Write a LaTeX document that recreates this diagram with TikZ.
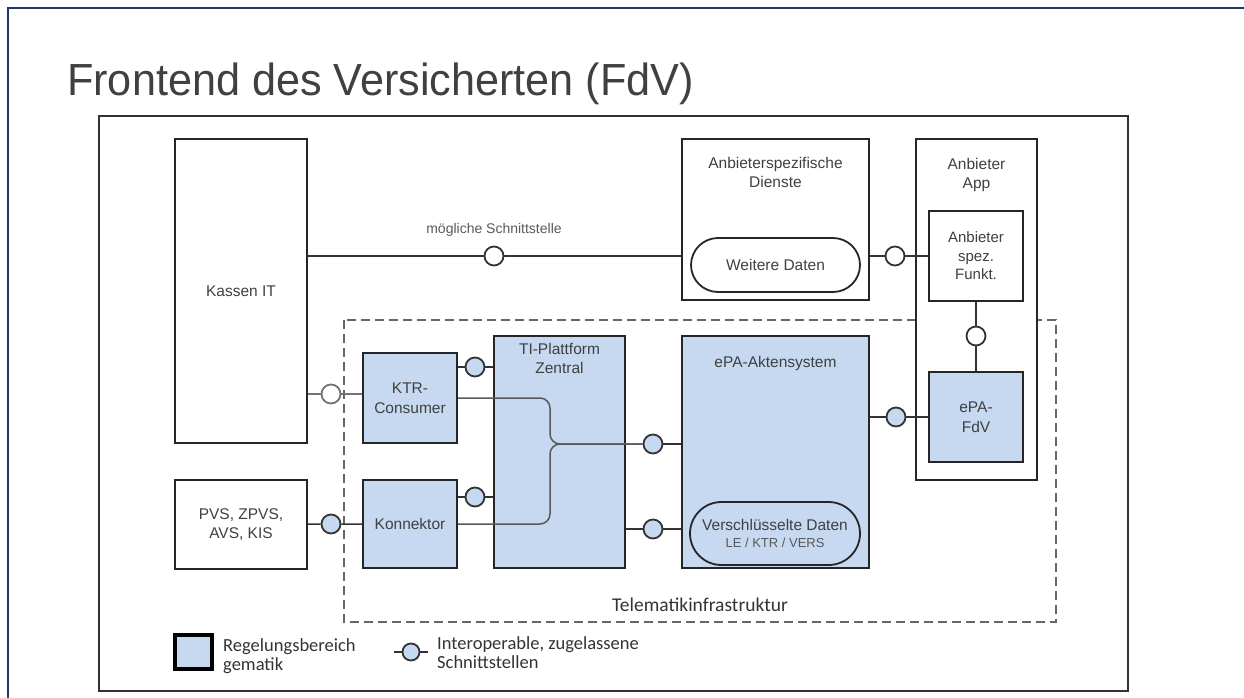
\documentclass[tikz,border=0pt]{standalone}
\usepackage{fontspec}
\usepackage{graphicx}
\setmainfont{Liberation Sans}
\newfontfamily\legendfont{Carlito}
\usetikzlibrary{shapes.misc}
\definecolor{gematikblau}{HTML}{C6D9F1}
\definecolor{rahmenblau}{HTML}{1F3864}
\definecolor{schrift}{HTML}{404040}
\definecolor{linie}{HTML}{333333}
\tikzset{
  kasten/.style={draw=black!85, line width=2.4pt, fill=white, inner sep=0pt, align=center, text=schrift, font=\fontsize{15.5}{19.5}\selectfont},
  gkasten/.style={kasten, fill=gematikblau},
  daten/.style={rounded rectangle, draw=black!85, line width=1.8pt, fill=white, inner sep=0pt, align=center, text=schrift, font=\fontsize{15.5}{19.5}\selectfont},
  etikett/.style={inner sep=0pt, align=center, text=schrift, font=\fontsize{15.5}{19.5}\selectfont},
  iface/.style={circle, draw=linie, line width=1.8pt, fill=gematikblau, minimum size=19pt, inner sep=0pt},
  ifacew/.style={iface, fill=white},
  verbindung/.style={line width=1.5pt, draw=linie},
  klammer/.style={line width=1.5pt, draw=black!65, rounded corners=10pt},
  tizone/.style={draw=black!60, line width=2.2pt, dash pattern=on 9pt off 5pt},
  legende/.style={inner sep=0pt, align=left, text=black!80, font=\legendfont\fontsize{18.5}{19}\selectfont}
}
\begin{document}
\begin{tikzpicture}[x=1pt,y=-1pt]
  \useasboundingbox (0,0) rectangle (1244,698);
  % Cadre et titre
  \draw [rahmenblau, line width=2pt] (1244,8) -- (8,8) -- (8,698);
  \node [anchor=base west, inner sep=0pt, text=schrift, font=\fontsize{45}{45}\selectfont] (titel) at (67,96) {\scalebox{0.96}[1]{Frontend des Versicherten (FdV)}};
  \draw [black!80, line width=2pt] (99,116) rectangle (1128,691);

  % Telematikinfrastruktur
  \draw [tizone] (344,320) rectangle (1056,622);
  \node [etikett, text=black!80, font=\legendfont\fontsize{19.5}{22}\selectfont] (tilabel) at (700,605) {Telematikinfrastruktur};

  % Kästen
  \node [kasten, minimum width=132pt, minimum height=304pt] (kassen) at (241,291) {Kassen IT};
  \node [kasten, minimum width=132pt, minimum height=89pt] (pvs) at (241,524.5) {PVS, ZPVS,\\AVS, KIS};
  \node [gkasten, minimum width=94pt, minimum height=90pt] (ktr) at (410,398) {KTR-\\Consumer};
  \node [gkasten, minimum width=94pt, minimum height=88pt] (konn) at (410,524) {Konnektor};
  \node [gkasten, minimum width=131pt, minimum height=232pt] (tip) at (559.5,452) {};
  \node [etikett, anchor=north] (tiptext) at (559.5,343) {TI-Plattform\\Zentral};
  \node [gkasten, minimum width=187pt, minimum height=232pt] (epa) at (775.5,452) {};
  \node [etikett, anchor=north] (epatext) at (775.5,356) {ePA-Aktensystem};
  \node [daten, fill=gematikblau, minimum width=170pt, minimum height=63pt] (verschl) at (775,533.5) {Verschlüsselte Daten\\[-2pt]{\fontsize{13}{15}\selectfont\color{black!65}LE / KTR / VERS}};
  \node [kasten, minimum width=187pt, minimum height=161pt] (dienste) at (775.5,219.5) {};
  \node [etikett, anchor=north] (dienstetext) at (775.5,157) {Anbieterspezifische\\Dienste};
  \node [daten, minimum width=169pt, minimum height=54pt] (weitere) at (775.5,265) {Weitere Daten};
  \node [kasten, minimum width=121pt, minimum height=341pt] (app) at (976.5,309.5) {};
  \node [etikett, anchor=north] (apptext) at (976.5,158) {Anbieter\\App};
  \node [kasten, minimum width=94pt, minimum height=90pt, font=\fontsize{15}{18.5}\selectfont] (funkt) at (976,256) {Anbieter\\spez.\\Funkt.};
  \node [gkasten, minimum width=94pt, minimum height=90pt] (fdv) at (976,417) {ePA-\\FdV};

  % Schnittstellen
  \foreach \n/\x/\y in {c1/494/256, c2/895/256, c3/976/336}
    \node [ifacew] (\n) at (\x,\y) {};
  \foreach \n/\x/\y in {c4/896/417, c5/475/367, c6/475/497, c8/331/524, c9/653/444, c10/653/529}
    \node [iface] (\n) at (\x,\y) {};
  \node [ifacew, draw=black!55] (c7) at (331,394) {};
  \node [etikett, text=black!65, font=\fontsize{14}{16}\selectfont] (moeglich) at (494,230) {mögliche Schnittstelle};

  \draw [verbindung] (kassen.east |- c1) -- (c1) -- (dienste.west |- c1);
  \draw [verbindung] (dienste.east |- c2) -- (c2) -- (funkt.west |- c2);
  \draw [verbindung] (funkt) -- (c3) -- (fdv);
  \draw [verbindung] (epa.east |- c4) -- (c4) -- (fdv);
  \draw [verbindung] (ktr.east |- c5) -- (c5) -- (tip.west |- c5);
  \draw [verbindung] (konn.east |- c6) -- (c6) -- (tip.west |- c6);
  \draw [verbindung, draw=black!55] (kassen.east |- c7) -- (c7) -- (ktr.west |- c7);
  \draw [verbindung] (pvs) -- (c8) -- (konn);
  \draw [verbindung] (tip.east |- c10) -- (c10) -- (epa.west |- c10);

  % Klammer
  \coordinate (knick) at (550,444);
  \draw [klammer] (ktr.east) -| (knick) -- (c9);
  \draw [klammer] (konn.east) -| (knick) -- (c9);
  \draw [verbindung] (c9) -- (epa.west |- c9);

  % Legende
  \node [draw=black, line width=3.5pt, fill=gematikblau, minimum width=37pt, minimum height=34pt, inner sep=0pt] (legkasten) at (193.5,652) {};
  \node [legende, anchor=west] (legtext) at (223,656) {Regelungsbereich\\gematik};
  \node [iface, minimum size=17pt] (legiface) at (411,652) {};
  \coordinate (legl) at (394,652);
  \coordinate (legr) at (428,652);
  \draw [verbindung] (legl) -- (legiface) -- (legr);
  \node [legende, anchor=west] (legtext2) at (437,653) {Interoperable, zugelassene\\Schnittstellen};
\end{tikzpicture}
\end{document}
